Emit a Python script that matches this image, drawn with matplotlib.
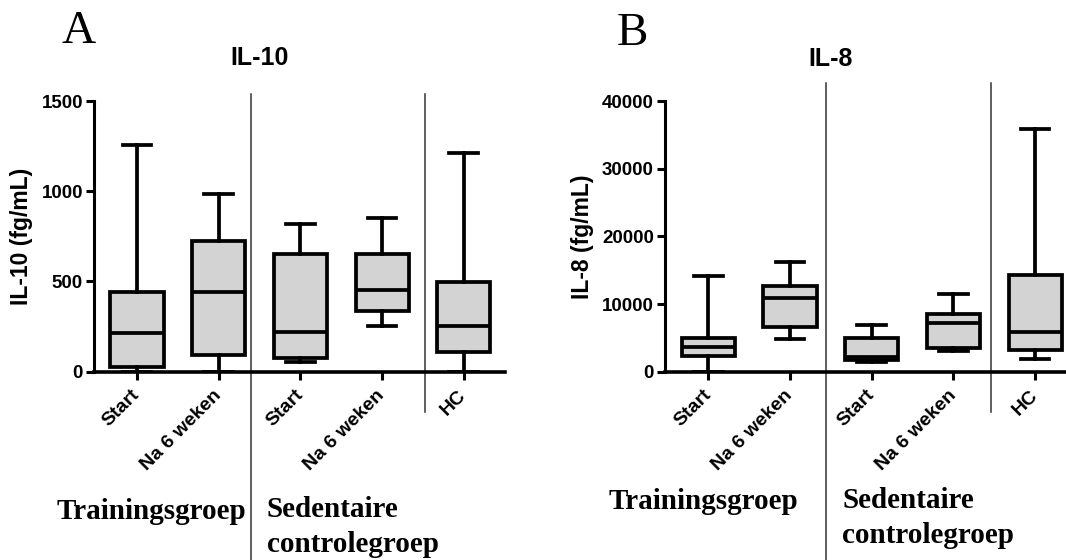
import matplotlib
matplotlib.use('Agg')
import matplotlib.pyplot as plt
import matplotlib.transforms as mtransforms

plt.rcParams['font.family'] = ['Liberation Sans', 'DejaVu Sans']

categories = ['Start', 'Na 6 weken', 'Start', 'Na 6 weken', 'HC']
groups = ['Trainingsgroep', 'Sedentaire\ncontrolegroep']

# IL-10 (fg/mL)
il10_min = [0, 0, 55, 252, 0]
il10_q1 = [25, 90, 77, 338, 110]
il10_med = [214, 444, 220, 453, 252]
il10_q3 = [440, 725, 650, 650, 499]
il10_max = [1255, 982, 817, 854, 1214]

# IL-8 (fg/mL)
il8_min = [0, 4850, 1420, 3035, 1910]
il8_q1 = [2300, 6610, 1710, 3525, 3280]
il8_med = [3700, 10870, 2200, 7200, 5875]
il8_q3 = [4950, 12730, 4990, 8570, 14300]
il8_max = [14100, 16250, 6850, 11450, 35840]


def make_stats(lo, q1, med, q3, hi):
    return [dict(whislo=a, q1=b, med=c, q3=d, whishi=e)
            for a, b, c, d, e in zip(lo, q1, med, q3, hi)]


def draw_panel(ax, stats, ymax, yticks, ylabel, dividers, div_top):
    lw = 2.7
    ax.bxp(stats, positions=range(len(stats)), widths=0.65, capwidths=0.35,
           patch_artist=True, showfliers=False, manage_ticks=False,
           boxprops=dict(facecolor='#d3d3d3', edgecolor='black', linewidth=lw),
           medianprops=dict(color='black', linewidth=lw),
           whiskerprops=dict(color='black', linewidth=lw),
           capprops=dict(color='black', linewidth=lw))
    ax.set_ylim(0, ymax)
    ax.set_yticks(yticks)
    ax.set_xticks(range(len(categories)))
    ax.set_xticklabels(categories, rotation=45, ha='right', va='center',
                       rotation_mode='anchor', fontsize=14, fontweight='bold')
    for lab in ax.get_yticklabels():
        lab.set_fontweight('bold')
        lab.set_fontsize(13.5)
    ax.set_ylabel(ylabel, fontsize=16.5, fontweight='bold', labelpad=6)
    ax.spines['top'].set_visible(False)
    ax.spines['right'].set_visible(False)
    ax.spines['left'].set_linewidth(2.2)
    ax.spines['bottom'].set_linewidth(2.6)
    ax.spines['bottom'].set_zorder(5)
    ax.tick_params(axis='both', width=2.2, length=6)
    ax.tick_params(axis='x', pad=9)
    ax.tick_params(axis='y', pad=2)
    trans = mtransforms.blended_transform_factory(ax.transData, ax.transAxes)
    for x, y_bottom in dividers:
        ax.plot([x, x], [y_bottom, div_top], transform=trans, clip_on=False,
                color='#333333', lw=1.1)


fig = plt.figure(figsize=(10.66, 5.6), dpi=100)

ax1 = fig.add_axes([94 / 1066, 188.3 / 560, 410.6 / 1066, 270.7 / 560])
ax1.set_xlim(-0.526, 4.50)
draw_panel(ax1, make_stats(il10_min, il10_q1, il10_med, il10_q3, il10_max),
           1500, [0, 500, 1000, 1500], 'IL-10 (fg/mL)',
           [(1.40, -0.70), (3.53, -0.149)], 1.025)

ax2 = fig.add_axes([665 / 1066, 188.3 / 560, 411 / 1066, 270.7 / 560])
ax2.set_xlim(-0.53, 4.50)
draw_panel(ax2, make_stats(il8_min, il8_q1, il8_med, il8_q3, il8_max),
           40000, [0, 10000, 20000, 30000, 40000], 'IL-8 (fg/mL)',
           [(1.44, -0.70), (3.46, -0.149)], 1.066)

# titles and panel letters
fig.text(260 / 1066, 1 - 58 / 560, 'IL-10', ha='center', va='center',
         fontsize=18, fontweight='bold')
fig.text(831 / 1066, 1 - 59 / 560, 'IL-8', ha='center', va='center',
         fontsize=18, fontweight='bold')
fig.text(62 / 1066, 1 - 43 / 560, 'A', ha='left', va='baseline',
         fontsize=34, family='Liberation Serif')
fig.text(617 / 1066, 1 - 45 / 560, 'B', ha='left', va='baseline',
         fontsize=34, family='Liberation Serif')

# group labels under the axes
serif = dict(fontsize=21, fontweight='bold', family='Liberation Serif',
             va='baseline', ha='left')
fig.text(57 / 1066, 1 - 519 / 560, groups[0], **serif)
fig.text(267 / 1066, 1 - 517 / 560, groups[1].split('\n')[0], **serif)
fig.text(267 / 1066, 1 - 552 / 560, groups[1].split('\n')[1], **serif)
fig.text(609 / 1066, 1 - 509 / 560, groups[0], **serif)
fig.text(842 / 1066, 1 - 508 / 560, groups[1].split('\n')[0], **serif)
fig.text(842 / 1066, 1 - 543 / 560, groups[1].split('\n')[1], **serif)

fig.savefig('out.png', dpi=100)
